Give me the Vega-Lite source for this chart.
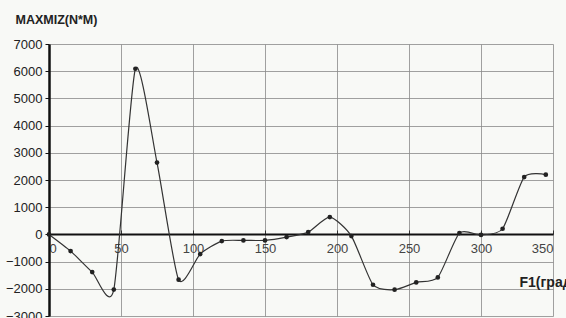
{
  "$schema": "https://vega.github.io/schema/vega-lite/v6.json",
  "width": 504,
  "height": 272,
  "autosize": {"type": "none"},
  "padding": {"left": 49, "top": 44, "right": 13, "bottom": 2},
  "background": "#f8f9f6",
  "config": {
    "view": {"stroke": null},
    "font": "Liberation Sans",
    "axis": {"labelFont": "Liberation Sans", "titleFont": "Liberation Sans"}
  },
  "data": {
    "values": [
      {"F1": 0, "M": 0},
      {"F1": 15, "M": -614},
      {"F1": 30, "M": -1386},
      {"F1": 45, "M": -2030},
      {"F1": 60, "M": 6090},
      {"F1": 75, "M": 2640},
      {"F1": 90, "M": -1666},
      {"F1": 105, "M": -724},
      {"F1": 120, "M": -246},
      {"F1": 135, "M": -220},
      {"F1": 150, "M": -220},
      {"F1": 165, "M": -100},
      {"F1": 180, "M": 85},
      {"F1": 195, "M": 636},
      {"F1": 210, "M": -62},
      {"F1": 225, "M": -1850},
      {"F1": 240, "M": -2033},
      {"F1": 255, "M": -1765},
      {"F1": 270, "M": -1580},
      {"F1": 285, "M": 48},
      {"F1": 300, "M": -20},
      {"F1": 315, "M": 208},
      {"F1": 330, "M": 2107},
      {"F1": 345, "M": 2195}
    ]
  },
  "encoding": {
    "x": {
      "field": "F1",
      "type": "quantitative",
      "scale": {"domain": [0, 350], "nice": false, "zero": false},
      "axis": {
        "values": [0, 50, 100, 150, 200, 250, 300, 350],
        "format": "d",
        "offset": -82,
        "domainColor": "#111",
        "domainWidth": 2.2,
        "tickColor": "#333",
        "tickSize": -4,
        "labelColor": "#444",
        "labelFontSize": 13,
        "labelPadding": 12,
        "grid": true,
        "gridColor": "#8a8a8a",
        "gridWidth": 1,
        "gridOpacity": 0.8,
        "title": "F1(град)",
        "titleFontSize": 14,
        "titleFontWeight": "bold",
        "titleColor": "#222",
        "titleAnchor": null,
        "titleAlign": "left",
        "titleBaseline": "middle",
        "titleX": 470,
        "titleY": 48
      }
    },
    "y": {
      "field": "M",
      "type": "quantitative",
      "scale": {"domain": [-3000, 7000], "nice": false, "zero": false},
      "axis": {
        "values": [-3000, -2000, -1000, 0, 1000, 2000, 3000, 4000, 5000, 6000, 7000],
        "format": "d",
        "domainColor": "#111",
        "domainWidth": 2.5,
        "tickColor": "#111",
        "tickSize": 4,
        "labelColor": "#222",
        "labelFontSize": 13,
        "labelPadding": 3,
        "grid": true,
        "gridColor": "#8a8a8a",
        "gridWidth": 1,
        "gridOpacity": 0.8,
        "title": "MAXMIZ(N*M)",
        "titleAngle": 0,
        "titleFontSize": 12.5,
        "titleFontWeight": "bold",
        "titleColor": "#222",
        "titleAnchor": null,
        "titleAlign": "left",
        "titleBaseline": "middle",
        "titleX": -34,
        "titleY": -25
      }
    }
  },
  "layer": [
    {
      "mark": {"type": "line", "interpolate": "cardinal", "tension": 0.35, "color": "#333", "strokeWidth": 1.2}
    },
    {
      "mark": {"type": "point", "filled": true, "color": "#222", "size": 22, "opacity": 1}
    }
  ]
}
